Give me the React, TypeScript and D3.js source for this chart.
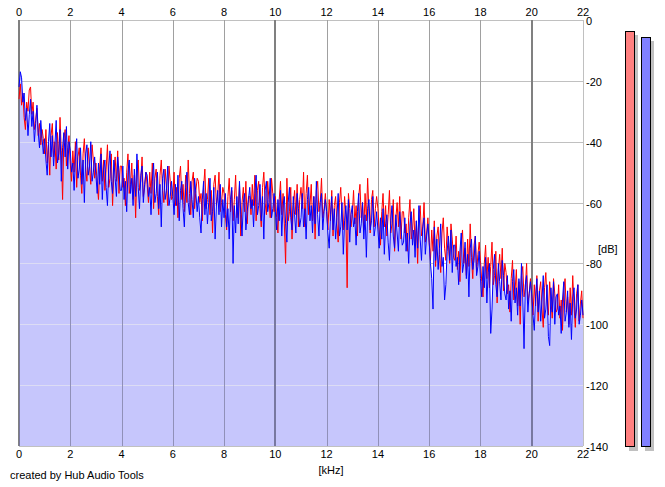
import React, { useEffect, useRef } from 'react';
import * as d3 from 'd3';

// spectrum levels in dB, 20 bins per kHz from 0 to 22 kHz
const blueDb = [
  -22, -17, -19, -27, -24, -33, -29, -38, -31, -26, -35, -30, -40, -34, -28, -37, -42, -33, -39, -44,
  -39, -46, -51, -40, -34, -45, -38, -48, -41, -33, -47, -44, -36, -53, -42, -37, -45, -35, -49, -40,
  -43, -50, -47, -56, -45, -39, -52, -49, -42, -54, -46, -60, -44, -41, -51, -48, -40, -53, -50, -45,
  -51, -57, -47, -54, -44, -59, -49, -46, -55, -61, -48, -43, -53, -57, -46, -52, -58, -45, -50, -56,
  -56, -48, -59, -53, -63, -50, -46, -57, -52, -61, -49, -58, -44, -55, -62, -51, -48, -60, -54, -50,
  -51, -58, -55, -64, -53, -47, -60, -57, -50, -62, -54, -68, -52, -49, -59, -56, -48, -61, -58, -53,
  -58, -64, -54, -61, -51, -66, -56, -53, -62, -68, -55, -50, -60, -64, -53, -59, -65, -52, -57, -63,
  -58, -65, -70, -59, -53, -64, -57, -67, -60, -52, -66, -63, -55, -72, -61, -56, -64, -54, -68, -59,
  -65, -57, -68, -62, -72, -59, -55, -80, -61, -70, -58, -67, -53, -64, -71, -60, -57, -69, -63, -59,
  -55, -62, -59, -68, -57, -51, -64, -61, -54, -66, -58, -72, -56, -53, -63, -60, -52, -65, -62, -57,
  -63, -69, -59, -66, -56, -71, -61, -58, -67, -73, -60, -55, -65, -69, -58, -64, -70, -57, -62, -68,
  -65, -57, -68, -62, -72, -59, -55, -66, -61, -70, -58, -67, -53, -64, -71, -60, -57, -69, -63, -59,
  -63, -70, -75, -64, -58, -69, -62, -72, -65, -57, -71, -68, -60, -77, -66, -61, -69, -59, -73, -64,
  -61, -68, -65, -74, -63, -57, -70, -67, -60, -72, -64, -78, -62, -59, -69, -66, -58, -71, -68, -63,
  -69, -75, -65, -72, -62, -77, -67, -64, -73, -79, -66, -61, -71, -75, -64, -70, -76, -63, -68, -74,
  -73, -65, -76, -70, -80, -67, -63, -74, -69, -78, -66, -75, -61, -72, -79, -68, -65, -77, -71, -67,
  -73, -80, -85, -95, -68, -79, -72, -82, -75, -67, -81, -78, -92, -87, -76, -71, -79, -69, -83, -74,
  -74, -81, -78, -87, -76, -70, -83, -80, -73, -85, -77, -91, -75, -72, -82, -79, -71, -84, -81, -76,
  -85, -91, -81, -88, -78, -93, -83, -80, -103, -95, -82, -77, -87, -91, -80, -86, -92, -79, -84, -90,
  -92, -84, -95, -89, -99, -86, -82, -93, -88, -97, -85, -94, -80, -91, -108, -87, -84, -96, -90, -86,
  -90, -97, -102, -91, -85, -96, -89, -99, -92, -84, -98, -95, -87, -104, -107, -88, -96, -86, -100, -91,
  -90, -97, -94, -103, -92, -86, -99, -96, -89, -101, -93, -105, -91, -88, -98, -95, -87, -100, -97, -92, -97,
];

const redDb = [
  -26, -21, -28, -24, -32, -36, -27, -30, -23, -22, -31, -27, -36, -33, -29, -38, -34, -41, -36, -39,
  -44, -36, -47, -41, -51, -38, -34, -45, -40, -49, -37, -46, -32, -43, -59, -39, -36, -48, -42, -38,
  -47, -53, -43, -50, -40, -55, -45, -42, -51, -57, -44, -39, -49, -53, -42, -48, -54, -41, -46, -52,
  -47, -54, -59, -48, -42, -53, -46, -56, -49, -41, -55, -52, -44, -61, -50, -45, -53, -43, -57, -48,
  -48, -55, -52, -61, -50, -44, -57, -54, -47, -59, -51, -65, -49, -46, -56, -53, -45, -58, -55, -50,
  -54, -60, -50, -57, -47, -62, -52, -49, -58, -64, -51, -46, -56, -60, -49, -55, -61, -48, -53, -59,
  -58, -50, -61, -55, -65, -52, -48, -59, -54, -63, -51, -60, -46, -57, -64, -53, -50, -62, -56, -52,
  -53, -60, -57, -66, -55, -49, -62, -59, -52, -64, -56, -70, -54, -51, -61, -58, -50, -63, -60, -55,
  -57, -64, -69, -58, -52, -63, -56, -66, -59, -51, -65, -62, -54, -71, -60, -55, -63, -53, -67, -58,
  -58, -64, -54, -61, -51, -66, -56, -53, -62, -68, -55, -50, -60, -64, -53, -59, -65, -52, -57, -63,
  -58, -65, -70, -59, -53, -64, -57, -67, -80, -52, -66, -63, -55, -72, -61, -56, -64, -54, -68, -59,
  -55, -62, -50, -68, -57, -51, -64, -61, -54, -66, -58, -72, -56, -53, -63, -60, -52, -65, -62, -57,
  -63, -69, -59, -66, -56, -71, -61, -58, -67, -73, -60, -55, -65, -69, -58, -64, -88, -57, -62, -68,
  -64, -56, -67, -61, -71, -58, -54, -65, -60, -69, -57, -66, -52, -63, -70, -59, -56, -68, -62, -58,
  -62, -69, -74, -63, -57, -68, -61, -71, -64, -56, -70, -67, -59, -76, -65, -60, -68, -58, -72, -63,
  -63, -70, -67, -76, -65, -59, -72, -69, -62, -74, -66, -80, -64, -61, -71, -68, -60, -73, -70, -65,
  -73, -79, -69, -76, -66, -81, -71, -68, -77, -83, -70, -65, -75, -79, -68, -74, -80, -67, -72, -78,
  -79, -71, -82, -76, -86, -73, -69, -80, -75, -84, -72, -81, -67, -78, -85, -74, -71, -83, -77, -73,
  -79, -86, -91, -80, -74, -85, -78, -88, -81, -73, -87, -84, -76, -93, -82, -77, -85, -75, -89, -80,
  -83, -90, -87, -96, -85, -79, -92, -89, -82, -94, -86, -100, -84, -81, -91, -88, -80, -93, -90, -85,
  -91, -97, -87, -94, -84, -99, -89, -86, -95, -101, -88, -83, -93, -97, -86, -92, -98, -85, -90, -96,
  -95, -87, -98, -92, -102, -89, -85, -96, -91, -100, -88, -97, -84, -94, -101, -90, -87, -99, -93, -89, -98,
];

const freqTicks = [0, 2, 4, 6, 8, 10, 12, 14, 16, 18, 20, 22];
const dbTicks = [0, -20, -40, -60, -80, -100, -120, -140];
const majorFreq = [0, 10, 20];
// peak meters (left = red, right = blue), in dB
const meterLevels = [-3.6, -5.6];
const meterColors = ['#ff8080', '#8080ff'];

const W = 665;
const H = 487;
const FONT = '"Liberation Sans", Arial, sans-serif';

const App: React.FC = () => {
  const svgRef = useRef<SVGSVGElement>(null);

  useEffect(() => {
    if (!svgRef.current) return;
    const svg = d3.select(svgRef.current);
    svg.selectAll('*').remove();

    const left = 19, right = 583, top = 20, bottom = 446;
    const x = d3.scaleLinear().domain([0, 22]).range([left, right]);
    const y = d3.scaleLinear().domain([0, -140]).range([top, bottom]);

    const toPoints = (arr: number[]) =>
      arr.map((v, i) => [(i * 22) / (arr.length - 1), v] as [number, number]);
    const blue = toPoints(blueDb);
    const red = toPoints(redDb);

    svg.append('rect').attr('width', W).attr('height', H).attr('fill', '#fff');

    const area = d3.area<[number, number]>()
      .x(d => x(d[0]))
      .y0(y(-140))
      .y1(d => y(d[1]));

    svg.append('defs').append('clipPath').attr('id', 'fillclip')
      .append('path').attr('d', area(blue) as string);

    // grid on white
    const grid = svg.append('g').attr('shape-rendering', 'crispEdges');
    dbTicks.forEach(t => {
      grid.append('line')
        .attr('x1', left).attr('x2', right)
        .attr('y1', y(t) + 0.5).attr('y2', y(t) + 0.5)
        .attr('stroke', '#c0c0c0');
    });
    grid.append('line')
      .attr('x1', right + 0.5).attr('x2', right + 0.5)
      .attr('y1', top).attr('y2', bottom)
      .attr('stroke', '#c0c0c0');
    freqTicks.slice(0, -1).forEach(t => {
      const major = majorFreq.includes(t);
      grid.append('line')
        .attr('x1', x(t) + (major ? 0 : 0.5)).attr('x2', x(t) + (major ? 0 : 0.5))
        .attr('y1', top).attr('y2', bottom)
        .attr('stroke', major ? '#808080' : '#a0a0a0')
        .attr('stroke-width', major ? 2 : 1);
    });

    // fill under blue channel
    svg.append('path')
      .attr('d', area(blue) as string)
      .attr('fill', '#c6c6fc');

    // grid inside fill
    const gridIn = svg.append('g')
      .attr('clip-path', 'url(#fillclip)')
      .attr('shape-rendering', 'crispEdges');
    dbTicks.slice(1, -1).forEach(t => {
      gridIn.append('line')
        .attr('x1', left).attr('x2', right)
        .attr('y1', y(t) + 0.5).attr('y2', y(t) + 0.5)
        .attr('stroke', '#dcdcf4');
    });
    freqTicks.slice(0, -1).forEach(t => {
      const major = majorFreq.includes(t);
      gridIn.append('line')
        .attr('x1', x(t) + (major ? 0 : 0.5)).attr('x2', x(t) + (major ? 0 : 0.5))
        .attr('y1', top).attr('y2', bottom)
        .attr('stroke', major ? '#7878a0' : '#9090b8')
        .attr('stroke-width', major ? 2 : 1);
    });

    const line = d3.line<[number, number]>()
      .x(d => x(d[0]))
      .y(d => y(d[1]));

    svg.append('path').attr('d', line(red) as string)
      .attr('fill', 'none').attr('stroke', '#ff0000').attr('stroke-width', 1);
    svg.append('path').attr('d', line(blue) as string)
      .attr('fill', 'none').attr('stroke', '#0000ff').attr('stroke-width', 1);

    // axis labels
    const labels = svg.append('g')
      .attr('font-family', FONT).attr('font-size', 11).attr('fill', '#000');
    freqTicks.forEach(t => {
      labels.append('text').attr('x', x(t)).attr('y', 16)
        .attr('text-anchor', 'middle').text(t);
      labels.append('text').attr('x', x(t)).attr('y', 458)
        .attr('text-anchor', 'middle').text(t);
    });
    dbTicks.forEach(t => {
      labels.append('text').attr('x', 586).attr('y', y(t) + 5)
        .attr('text-anchor', 'start').text(t);
    });
    labels.append('text').attr('x', 598).attr('y', 253).text('[dB]');
    labels.append('text').attr('x', 331).attr('y', 474)
      .attr('text-anchor', 'middle').text('[kHz]');
    labels.append('text').attr('x', 10).attr('y', 479).text('created by Hub Audio Tools');

    // level meters
    const meterX = [625, 641];
    const meters = svg.append('g').attr('shape-rendering', 'crispEdges');
    meterLevels.forEach((lv, i) => {
      const x0 = meterX[i];
      const y0 = y(lv);
      meters.append('rect')
        .attr('x', x0 + 4).attr('y', y0 + 4)
        .attr('width', 9).attr('height', bottom - y0 + 1)
        .attr('fill', '#c0c0c0');
      meters.append('rect')
        .attr('x', x0 + 0.5).attr('y', y0 + 0.5)
        .attr('width', 9).attr('height', bottom - y0)
        .attr('fill', meterColors[i])
        .attr('stroke', '#000');
    });
  }, []);

  return (
    <div style={{ position: 'fixed', left: 0, top: 0 }}>
      <svg ref={svgRef} width={W} height={H} style={{ display: 'block' }}></svg>
    </div>
  );
};

export default App;
